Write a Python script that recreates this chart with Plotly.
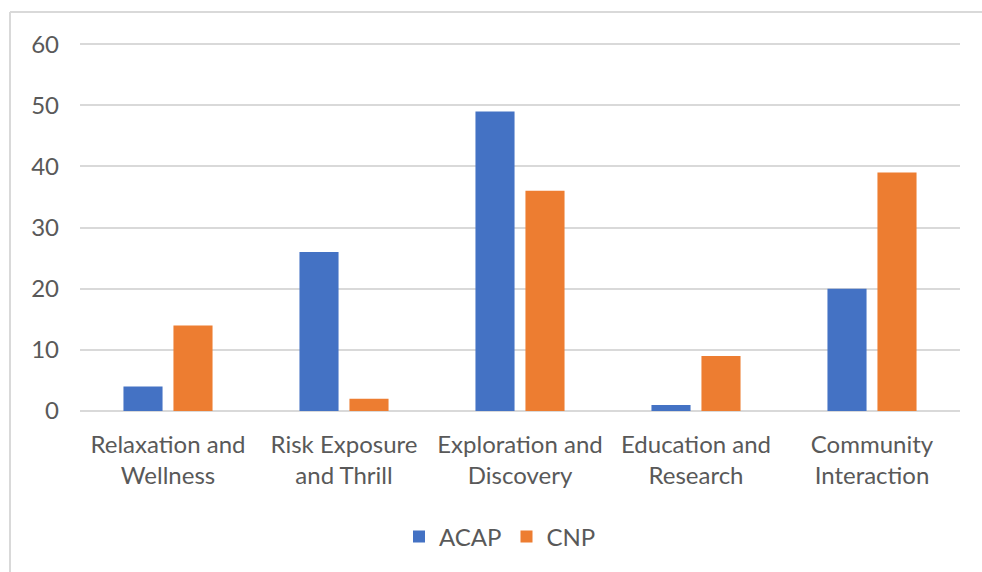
import plotly.graph_objects as go

categories = ["Relaxation and<br>Wellness", "Risk Exposure<br>and Thrill",
              "Exploration and<br>Discovery", "Education and<br>Research",
              "Community<br>Interaction"]
acap = [4, 26, 49, 1, 20]
cnp = [14, 2, 36, 9, 39]
y_ticks = [0, 10, 20, 30, 40, 50, 60]

BLUE = "#4472C4"
ORANGE = "#ED7D31"
GRID = "#D9D9D9"
TEXT = "#595959"
FONT = "Lato"
FS = 24

fig = go.Figure()
fig.add_trace(go.Bar(name="ACAP", x=categories, y=acap, marker_color=BLUE,
                     marker_line_width=0))
fig.add_trace(go.Bar(name="CNP", x=categories, y=cnp, marker_color=ORANGE,
                     marker_line_width=0))

W, H = 982, 572
ml, mr, mt, mb = 80, 22, 38, 161
pw = W - ml - mr
ph = H - mt - mb

def px_x(x):
    return (x - ml) / pw

def px_y(y):
    return (H - mb - y) / ph

fig.update_layout(
    width=W, height=H,
    margin=dict(l=ml, r=mr, t=mt, b=mb, pad=0),
    paper_bgcolor="white", plot_bgcolor="white",
    barmode="group", bargap=0.432, bargroupgap=0.218,
    font=dict(family=FONT, size=FS, color=TEXT),
    showlegend=True,
    legend=dict(orientation="h", x=px_x(500), xanchor="center", y=px_y(537), yanchor="middle",
                font=dict(family=FONT, size=FS, color=TEXT),
                itemwidth=30, traceorder="normal"),
    xaxis=dict(showgrid=False, showline=False, zeroline=False, ticks="",
               tickfont=dict(family=FONT, size=FS, color=TEXT),
               ticklabelstandoff=17),
    yaxis=dict(range=[0, 61], tickvals=y_ticks, showgrid=True, gridcolor=GRID,
               gridwidth=2, zeroline=True, zerolinecolor=GRID, zerolinewidth=2,
               showline=False, ticks="", ticklabelstandoff=20,
               tickfont=dict(family=FONT, size=FS, color=TEXT)),
    shapes=[
        dict(type="line", xref="paper", yref="paper",
             x0=px_x(10), x1=px_x(10), y0=px_y(12), y1=px_y(H),
             line=dict(color=GRID, width=2)),
        dict(type="line", xref="paper", yref="paper",
             x0=px_x(10), x1=px_x(W), y0=px_y(12), y1=px_y(12),
             line=dict(color=GRID, width=2)),
    ],
)

fig.write_html("out.html")
